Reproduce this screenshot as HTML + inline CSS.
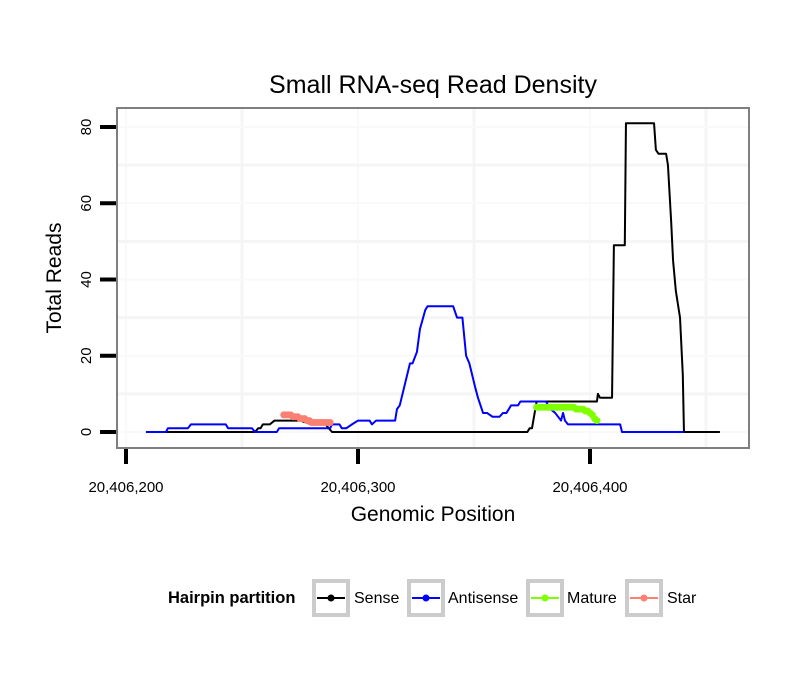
<!DOCTYPE html>
<html><head><meta charset="utf-8"><style>
body{margin:0;background:#fff;}
svg{display:block;font-family:"Liberation Sans",sans-serif;}
</style></head><body>
<svg id="chart" width="810" height="690">
<text x="433" y="93" font-size="25" text-anchor="middle">Small RNA-seq Read Density</text>
<g id="plot"></g>
<text x="433" y="521" font-size="21" text-anchor="middle">Genomic Position</text>
<text transform="translate(61,278) rotate(-90)" font-size="21" text-anchor="middle">Total Reads</text>
<g>
<text x="168" y="603" font-size="16.5" font-weight="bold">Hairpin partition</text>
<g><rect x="314" y="581" width="34" height="34" fill="#fff" stroke="#ccc" stroke-width="4"/><line x1="317" y1="598" x2="345" y2="598" stroke="#000" stroke-width="2"/><circle cx="331" cy="598" r="3.5" fill="#000"/><text x="354" y="603" font-size="16">Sense</text></g>
<g><rect x="409" y="581" width="34" height="34" fill="#fff" stroke="#ccc" stroke-width="4"/><line x1="412" y1="598" x2="440" y2="598" stroke="#0000ff" stroke-width="2"/><circle cx="426" cy="598" r="3.5" fill="#0000ff"/><text x="448" y="603" font-size="16">Antisense</text></g>
<g><rect x="528" y="581" width="34" height="34" fill="#fff" stroke="#ccc" stroke-width="4"/><line x1="531" y1="598" x2="559" y2="598" stroke="#7fff00" stroke-width="2"/><circle cx="545" cy="598" r="3.5" fill="#7fff00"/><text x="567" y="603" font-size="16">Mature</text></g>
<g><rect x="627" y="581" width="34" height="34" fill="#fff" stroke="#ccc" stroke-width="4"/><line x1="630" y1="598" x2="658" y2="598" stroke="#fa8072" stroke-width="2"/><circle cx="644" cy="598" r="3.5" fill="#fa8072"/><text x="667" y="603" font-size="16">Star</text></g>
</g>
</svg>
<script>
const xTicks=[200,300,400];
const xTickLabels=["20,406,200","20,406,300","20,406,400"];
const yTicks=[0,20,40,60,80];
const senseData=[[8.6,0],[55.6,0],[57,1],[58,1],[59,2],[62,2],[64,3],[75,3],[80,2],[86,2],[88.8,0],[173,0],[174,1],[175,1],[177,8],[203,8],[203.4,10],[204.3,9],[209.5,9],[210.3,49],[215,49],[215.5,81],[227.6,81],[228.4,74],[229.5,73],[232.8,73],[233.6,70],[235,55],[235.8,45],[237,37],[238.8,30],[240,15],[240.5,0],[256,0]];
const antisenseData=[[8.6,0],[17.2,0],[18.1,1],[26.7,1],[28,2],[43,2],[44,1],[54.3,1],[55.6,0],[65,0],[66,1],[88,1],[88.8,2],[92,2],[93,1],[95,1],[97.4,2],[100,3],[105,3],[106,2],[107.8,3],[116,3],[116.8,6],[118,7],[120,12],[122.4,18],[123.5,18],[125.4,21],[126.7,27],[129,32],[130,33],[141,33],[142.7,30],[145,30],[146.6,20],[148,18],[149.6,14],[150.4,12],[151.7,9],[153.9,5],[155.6,5],[158,4],[161,4],[162.5,5],[164,5],[166,7],[169,7],[170,8],[181,8],[183,6],[185,5],[187.5,3],[188.4,5],[189.2,3],[190.5,2],[213,2],[213.8,0],[240.5,0]];
const matureData=[[177,6.5],[178,6.5],[179,6.5],[180,6.5],[181,6.5],[182,6.5],[183,6.5],[184,6.5],[185,6.5],[186,6.5],[187,6.5],[188,6.5],[189,6.5],[190,6.5],[191,6.5],[192,6.5],[193,6.5],[194,6],[195,6],[196,6],[197,6],[198,5.5],[199,5.5],[200,5],[201,4.5],[202,3.5],[203,3]];
const starData=[[68,4.5],[69,4.5],[70,4.5],[71,4.5],[72,4],[73,4],[74,4],[75,3.5],[76,3.5],[77,3.5],[78,3],[79,3],[80,2.5],[81,2.5],[82,2.5],[83,2.5],[84,2.5],[85,2.5],[86,2.5],[87,2.5],[88,2.5]];
const NS='http://www.w3.org/2000/svg';
const X=v=>126+(v-200)*2.32;
const Y=v=>432-v*3.8125;
const plot=document.getElementById('plot');
function mk(t,a,parent){const e=document.createElementNS(NS,t);for(const k in a)e.setAttribute(k,a[k]);(parent||plot).appendChild(e);return e;}
const bg=mk('rect',{x:117,y:108,width:632,height:340,fill:'#fff'});


[250,350,450].forEach(v=>{const g=mk('line',{x1:X(v),x2:X(v),y1:108,y2:448,stroke:'#f5f5f5','stroke-width':3});

});
xTicks.forEach(v=>{const g=mk('line',{x1:X(v),x2:X(v),y1:108,y2:448,stroke:'#f9f9f9','stroke-width':2});

});
[10,30,50,70].forEach(v=>{const g=mk('line',{x1:117,x2:749,y1:Y(v),y2:Y(v),stroke:'#f5f5f5','stroke-width':3});

});
yTicks.forEach(v=>{const g=mk('line',{x1:117,x2:749,y1:Y(v),y2:Y(v),stroke:'#f9f9f9','stroke-width':2});

});
function series(data,color,w,name){const p=mk('polyline',{points:data.map(d=>X(d[0]+200)+','+Y(d[1])).join(' '),fill:'none',stroke:color,'stroke-width':w,'stroke-linejoin':'round'});

return p;}
function pts(data,color,name){data.forEach(d=>{const c=mk('circle',{cx:X(d[0]+200),cy:Y(d[1]),r:3.5,fill:color});

});}
series(senseData,'#000',2,'sense-line');
series(antisenseData,'#0000ff',2,'antisense-line');
series(matureData,'#7fff00',4,'mature-line');pts(matureData,'#7fff00','mature-point');
series(starData,'#fa8072',4,'star-line');pts(starData,'#fa8072','star-point');
const fr=mk('rect',{x:117,y:108,width:632,height:340,fill:'none',stroke:'#7f7f7f','stroke-width':2});


xTicks.forEach((v,i)=>{const t=mk('line',{x1:X(v),x2:X(v),y1:449,y2:464,stroke:'#000','stroke-width':4});


const l=mk('text',{x:X(v),y:492,'font-size':15,'text-anchor':'middle'});l.textContent=xTickLabels[i];

});
yTicks.forEach(v=>{const t=mk('line',{x1:100,x2:116,y1:Y(v),y2:Y(v),stroke:'#000','stroke-width':4});


const l=mk('text',{transform:`translate(91,${Y(v)}) rotate(-90)`,'font-size':15,'text-anchor':'middle'});l.textContent=v;

});
</script>
</body></html>
